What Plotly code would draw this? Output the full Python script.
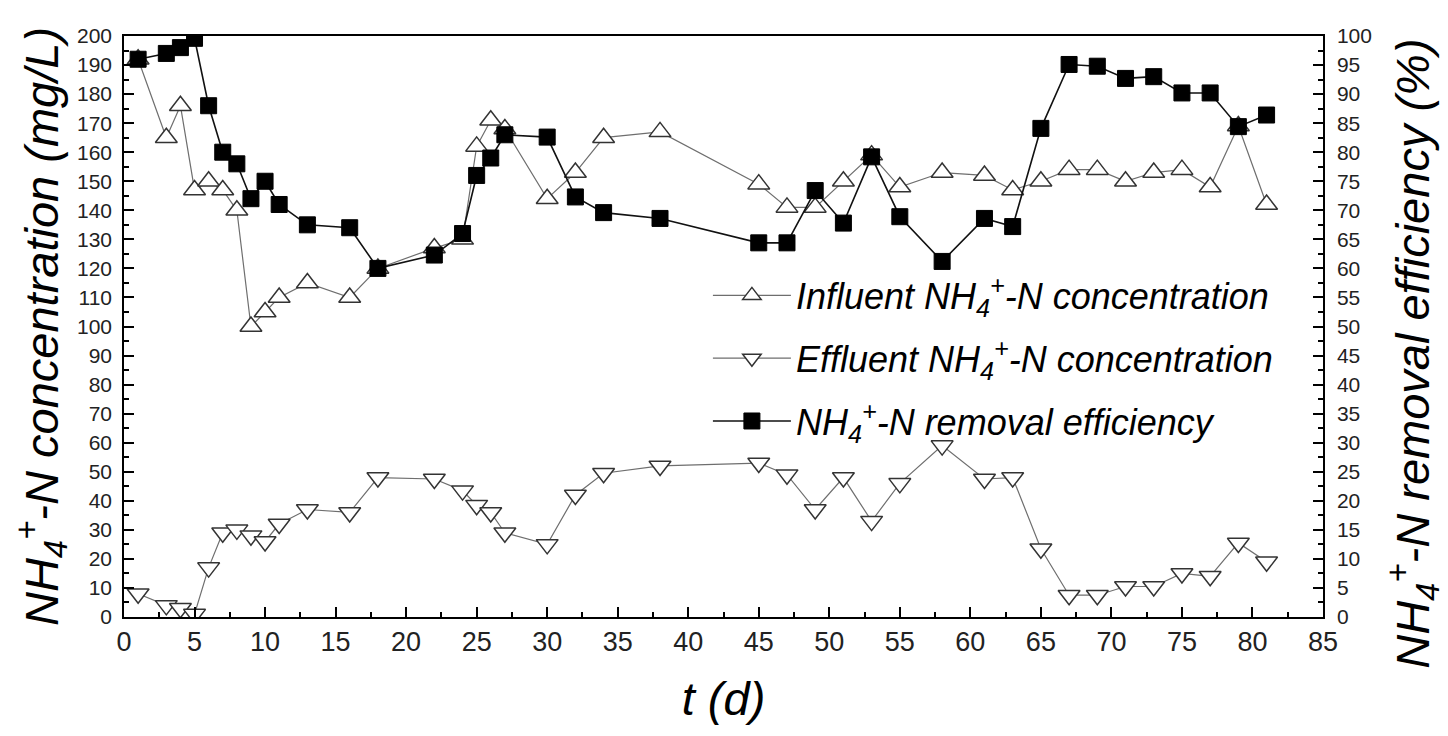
import plotly.graph_objects as go

days = [1, 3, 4, 5, 6, 7, 8, 9, 10, 11, 13, 16, 18, 22, 24, 25, 26, 27, 30, 32,
        34, 38, 45, 47, 49, 51, 53, 55, 58, 61, 63, 65, 67, 69, 71, 73, 75, 77, 79, 81]

influent = [192, 165, 176, 147, 150, 147, 140, 100, 105, 110, 115, 110, 120, 127, 130, 162, 171, 168, 144, 153,
            165, 167, 149, 141, 141, 150, 159, 148, 153, 152, 147, 150, 154, 154, 150, 153, 154, 148, 169, 142]

effluent = [8, 4, 3, 1, 17, 29, 30, 28, 26, 32, 37, 36, 48, 47.5, 43.5, 38.5, 36, 29, 25, 42,
            49.5, 52, 53, 49, 37, 48, 33, 46, 59, 47.5, 48, 23.5, 7.5, 7.5, 10.5, 10.5, 15, 14, 25.5, 19]

removal = [96, 97, 98, 99.6, 88, 80, 78, 72, 75, 71, 67.5, 67, 60, 62.3, 66, 76, 79, 83, 82.6, 72.3,
           69.6, 68.6, 64.4, 64.4, 73.4, 67.8, 79.2, 68.9, 61.2, 68.6, 67.2, 84.1, 95.1, 94.8, 92.7, 93, 90.2, 90.2, 84.4, 86.4]

FONT = "Liberation Sans, Arial, sans-serif"
NH = "NH<sub>4</sub><sup>+</sup>-N"
right_title = NH + " removal efficiency (%)"

fig = go.Figure()

fig.add_trace(go.Scatter(
    x=days, y=influent, name="Influent " + NH + " concentration",
    mode="lines+markers", legendgroup="a",
    line=dict(color="#6e6e6e", width=1.2),
    marker=dict(symbol="triangle-up", size=19, color="white",
                line=dict(color="#333333", width=1.5)),
))
fig.add_trace(go.Scatter(
    x=days, y=effluent, name="Effluent " + NH + " concentration",
    mode="lines+markers", legendgroup="b",
    line=dict(color="#6e6e6e", width=1.2),
    marker=dict(symbol="triangle-down", size=19, color="white",
                line=dict(color="#333333", width=1.5)),
))
fig.add_trace(go.Scatter(
    x=days, y=removal, name=NH + " removal efficiency", yaxis="y2",
    mode="lines+markers", legendgroup="c",
    line=dict(color="#111111", width=1.6),
    marker=dict(symbol="square", size=16, color="black",
                line=dict(color="black", width=1)),
))

tickfont = dict(family=FONT, size=21, color="#222222")
titlefont = dict(family=FONT, size=47, color="black", style="italic")

fig.update_layout(
    width=1448, height=736,
    margin=dict(l=124, r=125, t=36, b=119),
    paper_bgcolor="white", plot_bgcolor="white",
    showlegend=True,
    legend=dict(
        x=0.487, y=0.605, xanchor="left", yanchor="top",
        bgcolor="rgba(0,0,0,0)",
        font=dict(family=FONT, size=36, color="black", style="italic"),
        traceorder="grouped", tracegroupgap=13,
        itemwidth=78,
    ),
    xaxis=dict(
        range=[0, 85], dtick=5, tick0=0,
        ticks="inside", ticklen=10, tickwidth=1.5, tickcolor="black",
        minor=dict(dtick=2.5, ticks="inside", ticklen=5, tickwidth=1.5, tickcolor="black"),
        showline=True, linecolor="black", linewidth=1.5, mirror=True,
        showgrid=False, zeroline=False,
        tickfont=dict(family=FONT, size=27, color="#222222"),
        title=dict(text="t (d)", font=titlefont, standoff=26),
    ),
    yaxis=dict(
        range=[0, 200], dtick=10, tick0=0,
        ticks="inside", ticklen=10, tickwidth=1.5, tickcolor="black",
        minor=dict(dtick=5, ticks="inside", ticklen=5, tickwidth=1.5, tickcolor="black"),
        showline=True, linecolor="black", linewidth=1.5, mirror=True,
        showgrid=False, zeroline=False,
        tickfont=tickfont, ticklabelstandoff=6,
        title=dict(text=NH + " concentration (mg/L)", font=titlefont, standoff=4),
    ),
    yaxis2=dict(
        range=[0, 100], dtick=5, tick0=0, overlaying="y", side="right",
        ticks="inside", ticklen=10, tickwidth=1.5, tickcolor="black",
        minor=dict(dtick=2.5, ticks="inside", ticklen=5, tickwidth=1.5, tickcolor="black"),
        showline=True, linecolor="black", linewidth=1.5,
        showgrid=False, zeroline=False,
        tickfont=tickfont, ticklabelstandoff=8,
    ),
    annotations=[dict(
        text=right_title, xref="paper", yref="paper", x=1, y=0.453,
        xanchor="center", yanchor="middle", xshift=90, textangle=-90,
        showarrow=False, font=titlefont,
    )],
)

fig.write_html("out.html")
